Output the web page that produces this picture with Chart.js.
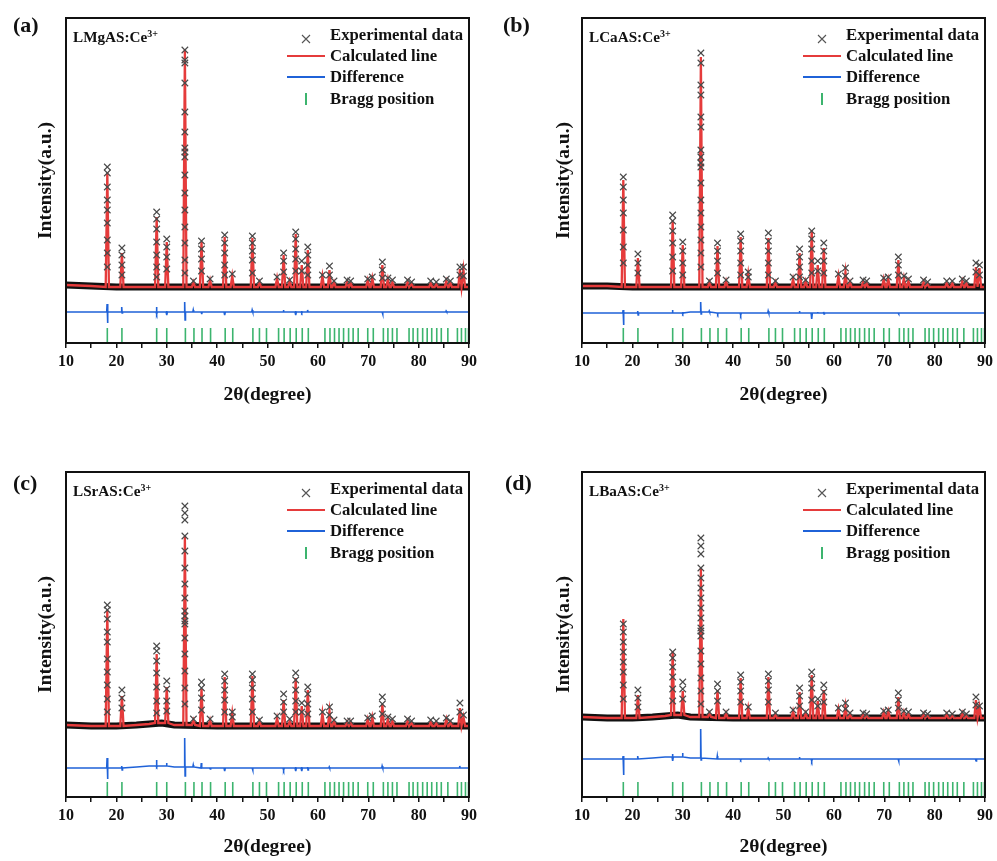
<!DOCTYPE html>
<html>
<head>
<meta charset="utf-8">
<script src="https://cdn.jsdelivr.net/npm/chart.js@4.4.1/dist/chart.umd.min.js"></script>
<style>
  body { margin: 0; background: #fff; }
  #page { position: relative; width: 997px; height: 861px; overflow: hidden;
          font-family: "Liberation Serif", "Times New Roman", serif; font-weight: bold; color: #111; }
  .pane { position: absolute; }
  .txt { position: absolute; white-space: nowrap; line-height: 20px; }
  .leg { font-size: 16.7px; }
  .sample { font-size: 15.2px; }
  .sample sup { font-size: 10px; vertical-align: 5px; line-height: 0; }
  .plabel { font-size: 22px; line-height: 26px; }
  .sym { position: absolute; }
</style>
</head>
<body>
<div id="page"></div>
<script>
// 2theta positions of the refined reflections (same phase in all four samples)
const peakPos = [18.2, 21.1, 28.0, 30.0, 33.6, 35.3, 36.9, 38.6, 41.5, 43.0, 47.0, 48.4,
  51.9, 53.2, 54.4, 55.6, 56.8, 58.0, 60.9, 62.3, 63.2, 65.8, 66.5, 69.9, 70.8, 72.8,
  73.9, 74.8, 77.8, 78.6, 82.4, 83.5, 85.5, 86.3, 88.2, 88.9];

// calculated intensity above background, one value per peakPos entry
const calcA = [115, 34, 70, 45, 238, 5, 45, 7, 50, 11, 49, 5, 9, 32, 6, 53, 22, 37, 11, 17, 5, 5, 4, 7, 9, 22, 8, 5, 5, 3, 4, 3, 6, 4, 18, 17];
const calcB = [107, 29, 67, 42, 230, 5, 41, 6, 50, 13, 49, 5, 8, 34, 6, 57, 22, 39, 11, 15, 5, 5, 4, 8, 8, 27, 9, 6, 5, 3, 4, 4, 6, 4, 20, 19];
const calcC = [116, 30, 69, 36, 189, 5, 37, 6, 49, 13, 50, 5, 8, 26, 5, 48, 20, 36, 13, 15, 5, 4, 4, 7, 9, 22, 7, 5, 5, 3, 4, 3, 7, 4, 18, 9];
const calcD = [99, 23, 64, 24, 149, 4, 28, 5, 40, 10, 41, 4, 7, 26, 5, 43, 17, 28, 9, 12, 4, 4, 3, 6, 7, 21, 6, 4, 4, 3, 4, 3, 5, 3, 18, 11];

// observed points on the peaks: [2theta, intensities...]
const obsA = [[18.2, 120, 114, 100, 87, 77, 64, 47, 34, 20], [21.1, 39, 32, 22, 12], [28.0, 75, 68, 58, 45, 32, 20, 10],
  [30.0, 48, 40, 30, 18], [33.6, 237, 227, 224, 204, 175, 155, 139, 135, 130, 112, 94, 77, 60, 44, 27, 14], [35.3, 6],
  [36.9, 46, 38, 28, 16], [38.6, 8], [41.5, 52, 44, 34, 22, 12], [43.0, 13], [47.0, 51, 44, 36, 27, 14], [48.4, 6],
  [51.9, 10], [53.2, 34, 26, 15], [54.4, 7], [55.6, 55, 48, 38, 28, 16], [56.8, 26, 16], [58.0, 40, 32, 22, 12],
  [60.9, 12], [62.3, 21, 12], [63.2, 6], [65.8, 7], [66.5, 6], [69.9, 8], [70.8, 10], [72.8, 25, 17, 9], [73.9, 9],
  [74.8, 7], [77.8, 7], [78.6, 5], [82.4, 6], [83.5, 5], [85.5, 8], [86.3, 6], [88.2, 20, 12], [88.9, 20, 11]];
const obsB = [[18.2, 110, 100, 87, 74, 57, 40, 24], [21.1, 33, 24, 14], [28.0, 72, 66, 56, 44, 30, 16], [30.0, 45, 36, 24, 12],
  [33.6, 234, 224, 202, 192, 170, 160, 137, 130, 124, 120, 104, 87, 74, 60, 47, 34, 20], [35.3, 6], [36.9, 44, 36, 26, 14],
  [38.6, 7], [41.5, 53, 46, 36, 24, 12], [43.0, 15, 10], [47.0, 54, 46, 36, 24, 12], [48.4, 6], [51.9, 10],
  [53.2, 38, 30, 20, 10], [54.4, 7], [55.6, 56, 48, 38, 26, 14], [56.8, 26, 16], [58.0, 44, 36, 26, 14], [60.9, 13],
  [62.3, 19, 11], [63.2, 6], [65.8, 7], [66.5, 6], [69.9, 9], [70.8, 10], [72.8, 30, 22, 12], [73.9, 11], [74.8, 8],
  [77.8, 7], [78.6, 5], [82.4, 6], [83.5, 6], [85.5, 8], [86.3, 6], [88.2, 24, 15], [88.9, 22, 12]];
const obsC = [[18.2, 121, 116, 107, 94, 84, 67, 54, 41, 27, 14], [21.1, 36, 28, 18], [28.0, 77, 72, 62, 50, 36, 22, 10],
  [30.0, 42, 34, 22, 12], [33.6, 219, 212, 205, 189, 174, 157, 141, 127, 114, 109, 104, 101, 87, 71, 54, 37, 21], [35.3, 6],
  [36.9, 44, 38, 28, 16], [38.6, 7], [41.5, 52, 45, 36, 26, 14], [43.0, 14, 9], [47.0, 52, 46, 38, 27, 14], [48.4, 6],
  [51.9, 10], [53.2, 32, 24, 14], [54.4, 7], [55.6, 53, 46, 36, 25, 14], [56.8, 23, 14], [58.0, 39, 32, 22, 12],
  [60.9, 14], [62.3, 19, 11], [63.2, 6], [65.8, 5], [66.5, 5], [69.9, 8], [70.8, 10], [72.8, 29, 22, 12], [73.9, 9],
  [74.8, 7], [77.8, 7], [78.6, 5], [82.4, 6], [83.5, 5], [85.5, 8], [86.3, 5], [88.2, 23, 14], [88.9, 11]];
const obsD = [[18.2, 94, 86, 76, 66, 56, 46, 33, 19], [21.1, 28, 20, 11], [28.0, 63, 57, 48, 38, 26, 14], [30.0, 33, 26, 16],
  [33.6, 179, 171, 163, 149, 139, 129, 119, 109, 99, 89, 86, 81, 66, 53, 39, 26, 13], [35.3, 5], [36.9, 34, 27, 17],
  [38.6, 6], [41.5, 43, 36, 27, 16], [43.0, 11], [47.0, 44, 37, 28, 16], [48.4, 5], [51.9, 8], [53.2, 30, 22, 12],
  [54.4, 6], [55.6, 46, 39, 30, 18], [56.8, 19, 12], [58.0, 33, 26, 16], [60.9, 10], [62.3, 15, 9], [63.2, 5],
  [65.8, 5], [66.5, 4], [69.9, 7], [70.8, 8], [72.8, 25, 18, 10], [73.9, 7], [74.8, 6], [77.8, 5], [78.6, 4],
  [82.4, 5], [83.5, 4], [85.5, 6], [86.3, 4], [88.2, 21, 13], [88.9, 12]];

// background level of the pattern
const bgX = [10, 15, 20, 24, 26.5, 29, 31.5, 40, 50, 60, 70, 80, 90];
const bgA = [2, 1, 0, 0, 0, 0, 0, 0, 0, 0, 0, 0, 0];
const bgB = [1, 1, 0, 0, 0, 0, 0, 0, 0, 0, 0, 0, 0];
const bgC = [1, 0, 0, 1, 2, 3, 1, 0, 0, 0, 0, 0, 0];
const bgD = [1, 0, 0, 1, 2, 3, 1, 0, 0, 0, 0, 0, 0];

// difference curve: slow part on bgX, spikes as [2theta, up, down]
const diffBaseA = [0, 0, 0, 0, 0, 0, 0, 0, 0, 0, 0, 0, 0];
const diffBaseB = [0, 0, 0, 0, 0, 0, 1, 0, 0, 0, 0, 0, 0];
const diffBaseC = [0, 0, 0, 1, 2, 2, 1, 0, 0, 0, 0, 0, 0];
const diffBaseD = [0, 0, 0, 1, 2, 2, 1, 0, 0, 0, 0, 0, 0];
const diffA = [[18.2, 8, 11], [21.1, 5, 1], [28.0, 5, 2], [30.0, 1, 3], [33.6, 10, 8], [35.3, 2, 0], [36.9, 0, 2],
  [41.5, 0, 3], [47.0, 2, 0], [53.2, 2, 0], [55.6, 1, 3], [56.8, 1, 1], [58.0, 2, 0], [72.8, 0, 2], [85.5, 1, 0]];
const diffB = [[18.2, 3, 12], [21.1, 2, 2], [28.0, 3, 0], [30.0, 1, 1], [33.6, 10, 2], [35.3, 1, 0], [36.9, 0, 1],
  [41.5, 0, 2], [47.0, 2, 0], [53.2, 2, 0], [55.6, 0, 6], [56.8, 1, 0], [58.0, 1, 1], [72.8, 0, 1]];
const diffC = [[18.2, 10, 11], [21.1, 2, 2], [28.0, 6, 1], [30.0, 3, 0], [33.6, 29, 9], [35.3, 2, 0], [36.9, 5, 0],
  [38.6, 0, 1], [41.5, 0, 3], [47.0, 0, 2], [53.2, 0, 2], [55.6, 1, 3], [56.8, 1, 3], [58.0, 1, 2], [62.3, 1, 0],
  [72.8, 2, 0], [88.2, 2, 0]];
const diffD = [[18.2, 3, 16], [21.1, 3, 0], [28.0, 3, 4], [30.0, 4, 0], [33.6, 29, 2], [36.9, 3, 0], [41.5, 0, 1],
  [47.0, 1, 0], [53.2, 2, 0], [55.6, 0, 2], [72.8, 0, 2], [88.2, 0, 2]];

// Bragg reflection positions
const bragg = [18.2, 21.1, 28.0, 30.0, 33.7, 35.4, 37.0, 38.7, 41.6, 43.1, 47.1, 48.4, 49.8, 52.2, 53.3, 54.5,
  55.7, 56.9, 58.1, 61.4, 62.4, 63.3, 64.2, 65.1, 66.1, 67.0, 68.0, 69.9, 71.0, 73.0, 73.9, 74.8, 75.7, 78.1,
  78.9, 79.8, 80.8, 81.7, 82.6, 83.6, 84.5, 85.8, 87.7, 88.5, 89.3, 89.9];

const xTicks = [10, 20, 30, 40, 50, 60, 70, 80, 90];

const red = "#e53b3b";
const blue = "#1f62d8";
const green = "#3cb46e";
const font = "'Liberation Serif', 'Times New Roman', serif";

// layout of the four panels
const panels = [
  { tag: "(a)", name: "LMgAS:Ce", calc: calcA, obs: obsA, bg: bgA, diff: diffA, diffBase: diffBaseA,
    rect: [0, 0, 498, 430], pad: { left: 30, top: 18, right: 29, bottom: 23 }, yW: 36, xH: 64,
    yMin: -56, yMax: 269, diffOff: -25, braggY: -48.5, box: [66, 18], labelPos: [13, 12] },
  { tag: "(b)", name: "LCaAS:Ce", calc: calcB, obs: obsB, bg: bgB, diff: diffB, diffBase: diffBaseB,
    rect: [498, 0, 499, 430], pad: { left: 50, top: 18, right: 12, bottom: 23 }, yW: 34, xH: 64,
    yMin: -56, yMax: 269, diffOff: -26, braggY: -48.5, box: [582, 18], labelPos: [503, 12] },
  { tag: "(c)", name: "LSrAS:Ce", calc: calcC, obs: obsC, bg: bgC, diff: diffC, diffBase: diffBaseC,
    rect: [0, 430, 498, 431], pad: { left: 30, top: 42, right: 29, bottom: 2 }, yW: 36, xH: 62,
    yMin: -71, yMax: 254, diffOff: -42, braggY: -63.5, box: [66, 472], labelPos: [13, 470] },
  { tag: "(d)", name: "LBaAS:Ce", calc: calcD, obs: obsD, bg: bgD, diff: diffD, diffBase: diffBaseD,
    rect: [498, 430, 499, 431], pad: { left: 50, top: 42, right: 12, bottom: 2 }, yW: 34, xH: 62,
    yMin: -79, yMax: 246, diffOff: -41, braggY: -71.5, box: [582, 472], labelPos: [505, 470] },
];

function nearest(x, xs, ys) {
  let k = 0;
  for (let i = 1; i < xs.length; i++) if (Math.abs(xs[i] - x) < Math.abs(xs[k] - x)) k = i;
  return ys[k];
}

function calcLine(p) {
  const pts = [];
  bgX.forEach((x, i) => {
    if (peakPos.every((q) => Math.abs(q - x) > 0.45)) pts.push({ x: x, y: p.bg[i] });
  });
  peakPos.forEach((q, i) => {
    const b = nearest(q, bgX, p.bg);
    pts.push({ x: q - 0.32, y: b }, { x: q, y: b + p.calc[i] }, { x: q + 0.32, y: b });
  });
  return pts.sort((a, b) => a.x - b.x);
}

function obsPoints(p) {
  const pts = [];
  p.obs.forEach(([q, ...hs]) => {
    const b = nearest(q, bgX, p.bg);
    hs.forEach((h) => pts.push({ x: q, y: b + h }));
  });
  return pts;
}

function diffLine(p) {
  const pts = [];
  bgX.forEach((x, i) => {
    if (p.diff.every((d) => Math.abs(d[0] - x) > 0.2)) pts.push({ x: x, y: p.diffOff + p.diffBase[i] });
  });
  p.diff.forEach(([q, up, down]) => {
    const b = p.diffOff + nearest(q, bgX, p.diffBase);
    pts.push({ x: q - 0.12, y: b }, { x: q - 0.04, y: b + up }, { x: q + 0.04, y: b - down }, { x: q + 0.12, y: b });
  });
  return pts.sort((a, b) => a.x - b.x);
}

// frame round the plot area
const frame = {
  id: "frame",
  afterDraw(chart) {
    const { ctx, chartArea: a } = chart;
    ctx.save();
    ctx.strokeStyle = "#111";
    ctx.lineWidth = 2;
    ctx.strokeRect(a.left, a.top, a.right - a.left, a.bottom - a.top);
    ctx.restore();
  },
};

const page = document.getElementById("page");

function addText(cls, html, left, top) {
  const d = document.createElement("div");
  d.className = "txt " + cls;
  d.innerHTML = html;
  d.style.left = left + "px";
  d.style.top = top + "px";
  page.appendChild(d);
  return d;
}

function addSym(html, left, top) {
  const d = document.createElement("div");
  d.className = "sym";
  d.innerHTML = html;
  d.style.left = left + "px";
  d.style.top = top + "px";
  page.appendChild(d);
}

panels.forEach((p) => {
  const pane = document.createElement("div");
  pane.className = "pane";
  pane.style.left = p.rect[0] + "px";
  pane.style.top = p.rect[1] + "px";
  pane.style.width = p.rect[2] + "px";
  pane.style.height = p.rect[3] + "px";
  const cv = document.createElement("canvas");
  pane.appendChild(cv);
  page.appendChild(pane);

  new Chart(cv, {
    type: "scatter",
    data: {
      datasets: [
        { label: "Experimental data", data: obsPoints(p), pointStyle: "crossRot", pointRadius: 4.6,
          borderColor: "#4a4a4a", borderWidth: 1.1, backgroundColor: "#4a4a4a", order: 0 },
        { label: "Calculated line", data: calcLine(p), showLine: true, borderColor: red, borderWidth: 2.3,
          pointRadius: 0, tension: 0, order: 1 },
        { label: "Difference", data: diffLine(p), showLine: true, borderColor: blue, borderWidth: 1.6,
          pointRadius: 0, tension: 0, order: 2 },
        { label: "Bragg position", data: bragg.map((x) => ({ x: x, y: p.braggY })), pointStyle: "line",
          rotation: 90, pointRadius: 7.5, borderColor: green, borderWidth: 1.6, order: 2 },
        { label: "background", data: bgX.map((x, i) => ({ x: x, y: p.bg[i] })), showLine: true,
          borderColor: "#111", borderWidth: 7, pointRadius: 0, tension: 0, order: 3 },
      ],
    },
    options: {
      responsive: true,
      maintainAspectRatio: false,
      animation: false,
      layout: { padding: p.pad },
      plugins: { legend: { display: false }, tooltip: { enabled: false } },
      scales: {
        x: {
          type: "linear",
          min: 10,
          max: 90,
          afterFit: (s) => { s.height = p.xH; },
          border: { display: false },
          grid: { drawOnChartArea: false, drawTicks: true, tickLength: 5, color: "#111", lineWidth: 1.5 },
          ticks: {
            stepSize: 5,
            autoSkip: false,
            maxRotation: 0,
            padding: 4,
            color: "#111",
            font: { family: font, weight: "bold", size: 16 },
            callback: (v) => (xTicks.includes(v) ? v : ""),
          },
          title: { display: true, text: "2θ(degree)", color: "#111", padding: { top: 0, bottom: 0 },
            font: { family: font, weight: "bold", size: 19.5 } },
        },
        y: {
          min: p.yMin,
          max: p.yMax,
          afterFit: (s) => { s.width = p.yW; },
          border: { display: false },
          grid: { display: false },
          ticks: { display: false },
          title: { display: true, text: "Intensity(a.u.)", color: "#111", padding: { top: 4, bottom: 4 },
            font: { family: font, weight: "bold", size: 19.5 } },
        },
      },
    },
    plugins: [frame],
  });

  const L = p.box[0], T = p.box[1];
  addText("plabel", p.tag, p.labelPos[0], p.labelPos[1]);
  addText("sample", p.name + "<sup>3+</sup>", L + 7, T + 9);
  addText("leg", "Experimental data", L + 264, T + 7);
  addText("leg", "Calculated line", L + 264, T + 28);
  addText("leg", "Difference", L + 264, T + 49);
  addText("leg", "Bragg position", L + 264, T + 71);
  addSym('<svg width="10" height="10"><path d="M1 1L9 9M9 1L1 9" stroke="#555" stroke-width="1.1"/></svg>', L + 235, T + 12);
  addSym('<div style="width:38px;height:2px;background:' + red + '"></div>', L + 221, T + 37);
  addSym('<div style="width:38px;height:2px;background:' + blue + '"></div>', L + 221, T + 58);
  addSym('<div style="width:2px;height:12px;background:' + green + '"></div>', L + 239, T + 75);
});
</script>
</body>
</html>
